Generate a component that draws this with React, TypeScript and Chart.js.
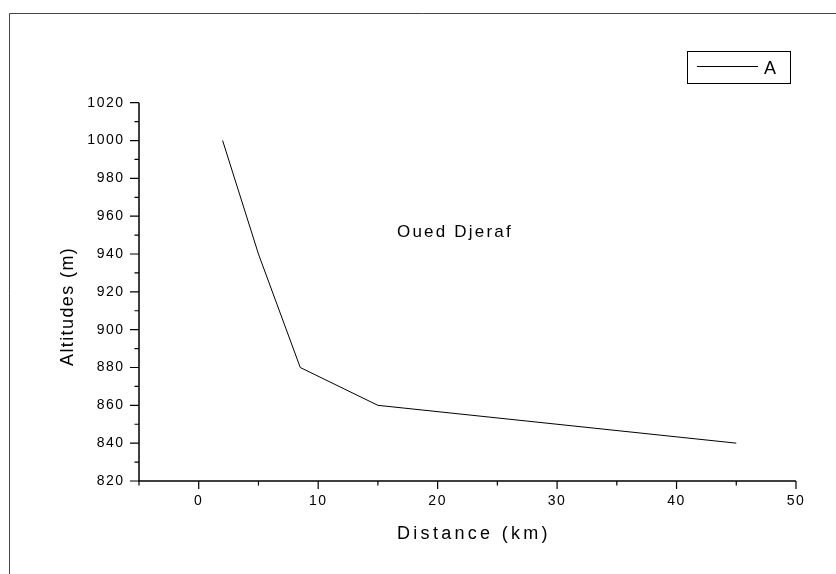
import { useEffect, useRef } from "react";
import { Chart, registerables } from "chart.js";
Chart.register(...registerables);

const distanceKm = [2, 5, 8.5, 15, 45];
const altitudeM = [1000, 940, 880, 860, 840];
const seriesLabel = "A";
const xTicks = [0, 10, 20, 30, 40, 50];
const xMinorTicks = [-5, 5, 15, 25, 35, 45];
const yTicks = [820, 840, 860, 880, 900, 920, 940, 960, 980, 1000, 1020];
const yMinorTicks = [830, 850, 870, 890, 910, 930, 950, 970, 990, 1010];
const xTitle = "Distance (km)";
const yTitle = "Altitudes (m)";
const annotationText = "Oued Djeraf";
const annotationX = 16.6;
const annotationY = 949;

const FONT = '"Liberation Sans", Arial, sans-serif';

const decor = {
  id: "decor",
  beforeDraw(chart: any) {
    chart.ctx.letterSpacing = "1.5px";
  },
  afterDraw(chart: any) {
    const ctx = chart.ctx;
    const { left, right, top, bottom } = chart.chartArea;
    const xs = chart.scales.x;
    const ys = chart.scales.y;
    ctx.save();
    ctx.letterSpacing = "0px";
    // outer frame
    ctx.strokeStyle = "#444";
    ctx.lineWidth = 1;
    ctx.beginPath();
    ctx.moveTo(9.5, 574);
    ctx.lineTo(9.5, 13.5);
    ctx.lineTo(836, 13.5);
    ctx.stroke();
    // axes
    ctx.strokeStyle = "#000";
    ctx.lineWidth = 1.5;
    ctx.beginPath();
    ctx.moveTo(left, top);
    ctx.lineTo(left, bottom);
    ctx.lineTo(right, bottom);
    ctx.stroke();
    // ticks
    ctx.lineWidth = 1.2;
    ctx.beginPath();
    yTicks.forEach((v) => {
      const p = ys.getPixelForValue(v);
      ctx.moveTo(left - 9, p);
      ctx.lineTo(left, p);
    });
    yMinorTicks.forEach((v) => {
      const p = ys.getPixelForValue(v);
      ctx.moveTo(left - 4.5, p);
      ctx.lineTo(left, p);
    });
    xTicks.forEach((v) => {
      const p = xs.getPixelForValue(v);
      ctx.moveTo(p, bottom);
      ctx.lineTo(p, bottom + 8);
    });
    xMinorTicks.forEach((v) => {
      const p = xs.getPixelForValue(v);
      ctx.moveTo(p, bottom);
      ctx.lineTo(p, bottom + 4.5);
    });
    ctx.stroke();
    // titles
    ctx.fillStyle = "#000";
    ctx.textBaseline = "alphabetic";
    ctx.textAlign = "left";
    ctx.font = `18px ${FONT}`;
    ctx.letterSpacing = "3.3px";
    ctx.fillText(xTitle, 397, 538.5);
    ctx.save();
    ctx.translate(73, 366);
    ctx.rotate(-Math.PI / 2);
    ctx.letterSpacing = "1.4px";
    ctx.fillText(yTitle, 0, 0);
    ctx.restore();
    // annotation
    ctx.font = `17px ${FONT}`;
    ctx.letterSpacing = "2.2px";
    ctx.fillText(annotationText, xs.getPixelForValue(annotationX), ys.getPixelForValue(annotationY));
    // legend
    ctx.letterSpacing = "0px";
    ctx.lineWidth = 1;
    ctx.strokeStyle = "#000";
    ctx.strokeRect(687.5, 51.5, 103, 32);
    ctx.beginPath();
    ctx.moveTo(697, 66.5);
    ctx.lineTo(758, 66.5);
    ctx.stroke();
    ctx.font = `18px ${FONT}`;
    ctx.fillText(seriesLabel, 764, 74);
    ctx.restore();
    ctx.letterSpacing = "0px";
  },
};

export default function App() {
  const ref = useRef<HTMLCanvasElement | null>(null);
  useEffect(() => {
    document.body.style.margin = "0";
    const canvas = ref.current!;
    const chart = new Chart(canvas, {
      type: "line",
      data: {
        datasets: [
          {
            label: seriesLabel,
            data: distanceKm.map((x, i) => ({ x, y: altitudeM[i] })),
            borderColor: "#000",
            borderWidth: 1,
            pointRadius: 0,
            tension: 0,
            fill: false,
          },
        ],
      },
      options: {
        animation: false,
        responsive: false,
        layout: { padding: { top: 102.7, right: 40, bottom: 0, left: 0 } },
        plugins: { legend: { display: false }, tooltip: { enabled: false } },
        scales: {
          x: {
            type: "linear",
            min: -5,
            max: 50,
            grid: { display: false, drawTicks: false, tickLength: 0 },
            border: { display: false },
            ticks: {
              color: "#000",
              font: { family: FONT, size: 14 },
              padding: 11.3,
              maxRotation: 0,
              callback: (v: any) => String(v),
            },
            afterBuildTicks: (s: any) => {
              s.ticks = xTicks.map((v) => ({ value: v }));
            },
            afterFit: (s: any) => {
              s.height = 93;
            },
          },
          y: {
            type: "linear",
            min: 820,
            max: 1020,
            grid: { display: false, drawTicks: false, tickLength: 0 },
            border: { display: false },
            ticks: {
              color: "#000",
              font: { family: FONT, size: 14 },
              padding: 14.5,
              callback: (v: any) => String(v),
            },
            afterBuildTicks: (s: any) => {
              s.ticks = yTicks.map((v) => ({ value: v }));
            },
            afterFit: (s: any) => {
              s.width = 139;
            },
          },
        },
      },
      plugins: [decor],
    });
    return () => chart.destroy();
  }, []);
  return (
    <div style={{ width: 836, height: 574, background: "#fff" }}>
      <canvas ref={ref} width={836} height={574} />
    </div>
  );
}
